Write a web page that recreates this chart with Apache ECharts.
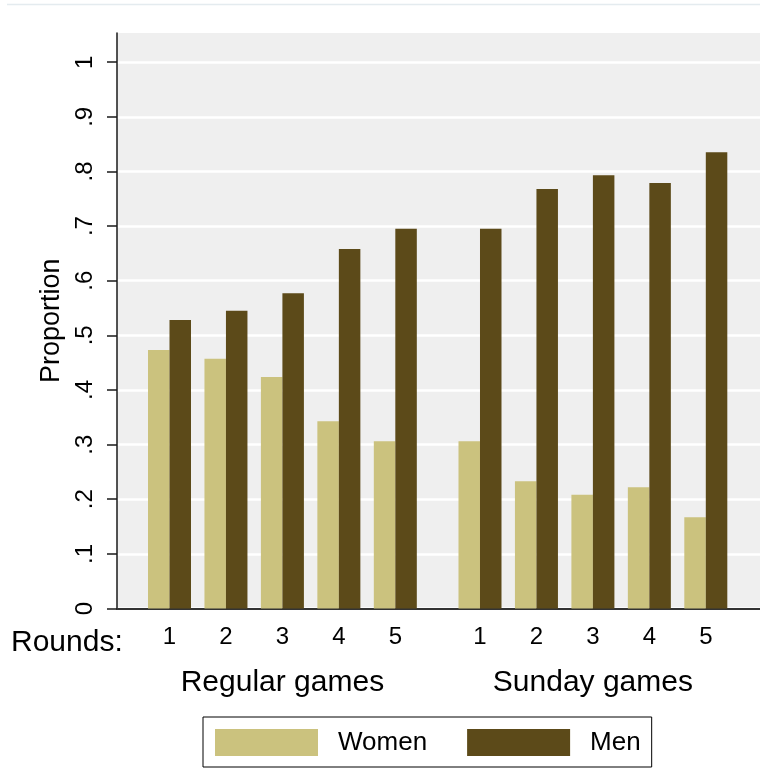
<!DOCTYPE html>
<html>
<head>
<meta charset="utf-8">
<title>Proportion by round</title>
<script src="https://cdn.jsdelivr.net/npm/echarts@6/dist/echarts.min.js"></script>
<style>
  html, body { margin: 0; padding: 0; background: #ffffff; }
  #chart { width: 760px; height: 769px; }
</style>
</head>
<body>
<div id="chart"></div>
<script>
// Game types and rounds shown along the x axis
var groups = ['Regular games', 'Sunday games'];
var rounds = ['1', '2', '3', '4', '5'];

// Proportion of women / men per round, regular games then Sunday games
var womenRegular = [0.473, 0.457, 0.424, 0.343, 0.306];
var menRegular   = [0.528, 0.545, 0.577, 0.658, 0.695];
var womenSunday  = [0.306, 0.233, 0.208, 0.222, 0.167];
var menSunday    = [0.695, 0.768, 0.793, 0.779, 0.835];

// y-axis tick values
var yTicks = [0, 0.1, 0.2, 0.3, 0.4, 0.5, 0.6, 0.7, 0.8, 0.9, 1];

var FONT = '"Liberation Sans", Arial, Helvetica, sans-serif';
var GROUP_GAP = 0.5;            // extra spacing between the two game types (in round slots)
var perGroup = rounds.length + GROUP_GAP;

function pos(g, i) { return g * perGroup + i; }

var womenByGroup = [womenRegular, womenSunday];
var menByGroup = [menRegular, menSunday];

var positions = [], posLabels = [], womenData = [], menData = [];
groups.forEach(function (name, g) {
  rounds.forEach(function (r, i) {
    var x = pos(g, i);
    positions.push(x);
    posLabels.push(r);
    womenData.push([x, womenByGroup[g][i]]);
    menData.push([x, menByGroup[g][i]]);
  });
});
var groupCenters = groups.map(function (n, g) { return pos(g, (rounds.length - 1) / 2); });

var X_MIN = -0.93, X_MAX = 10.46;

var chart = echarts.init(document.getElementById('chart'), null, { renderer: 'canvas' });

chart.setOption({
  backgroundColor: '#ffffff',
  animation: false,
  textStyle: { fontFamily: FONT },
  grid: {
    left: 117, right: 0, top: 33, bottom: 160.5,
    show: true, backgroundColor: '#efefef', borderWidth: 0
  },
  legend: {
    left: 203, top: 717,
    orient: 'horizontal',
    itemWidth: 103, itemHeight: 27, itemGap: 40,
    padding: [12, 11, 11, 12],
    borderColor: '#000000', borderWidth: 1,
    icon: 'rect',
    textStyle: { fontFamily: FONT, fontSize: 26, color: '#000', padding: [0, 0, 0, 15] },
    data: ['Women', 'Men']
  },
  xAxis: [
    {
      type: 'value', min: X_MIN, max: X_MAX, position: 'bottom',
      axisLine: { show: true, onZero: false, lineStyle: { color: '#333333', width: 2 } },
      axisTick: { show: false },
      splitLine: { show: false },
      axisLabel: {
        customValues: positions,
        margin: 17,
        fontFamily: FONT, fontSize: 24, color: '#000',
        formatter: function (v) {
          var k = positions.indexOf(v);
          return k >= 0 ? posLabels[k] : '';
        }
      }
    },
    {
      type: 'value', min: X_MIN, max: X_MAX, position: 'bottom',
      axisLine: { show: false, onZero: false },
      axisTick: { show: false },
      splitLine: { show: false },
      axisLabel: {
        customValues: groupCenters,
        margin: 59,
        fontFamily: FONT, fontSize: 30, color: '#000',
        formatter: function (v) {
          var k = groupCenters.indexOf(v);
          return k >= 0 ? groups[k] : '';
        }
      }
    }
  ],
  yAxis: {
    type: 'value', min: 0, max: 1.0535,
    name: 'Proportion', nameLocation: 'middle', nameGap: 42,
    nameTextStyle: { fontFamily: FONT, fontSize: 27, color: '#000' },
    axisLine: { show: true, onZero: false, lineStyle: { color: '#1a1a1a', width: 1.5 } },
    axisTick: { show: true, length: 10, customValues: yTicks, lineStyle: { color: '#1a1a1a', width: 1.5 } },
    splitLine: { show: true, lineStyle: { color: '#ffffff', width: 2.5 } },
    axisLabel: {
      customValues: yTicks,
      rotate: 90, margin: 20,
      fontFamily: FONT, fontSize: 24, color: '#000',
      formatter: function (v) {
        if (v === 0) return '0';
        if (Math.abs(v - 1) < 1e-9) return '1';
        return '.' + Math.round(v * 10);
      }
    }
  },
  series: [
    {
      name: 'Women', type: 'bar', xAxisIndex: 0,
      barWidth: 21.5, barGap: '0%',
      itemStyle: { color: '#cbc27e' },
      data: womenData
    },
    {
      name: 'Men', type: 'bar', xAxisIndex: 0,
      barWidth: 21.5, barGap: '0%',
      itemStyle: { color: '#5c4a19' },
      data: menData
    }
  ],
  graphic: [
    {
      type: 'line', silent: true,
      shape: { x1: 7, y1: 4.5, x2: 760, y2: 4.5 },
      style: { stroke: '#e4ebef', lineWidth: 1.5 }
    },
    {
      type: 'text', left: 11, top: 628, silent: true,
      style: { text: 'Rounds:', fontFamily: FONT, fontSize: 30, fill: '#000' }
    }
  ]
});
</script>
</body>
</html>
